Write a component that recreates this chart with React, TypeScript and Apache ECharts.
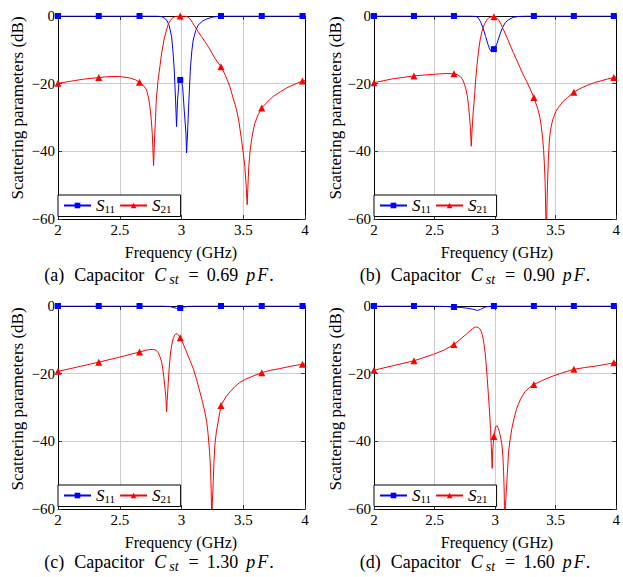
import React, { useEffect, useRef } from 'react';
import * as echarts from 'echarts';

// ---------------- data ----------------
const SERIES_NAMES = ['S11', 'S21'];
const PANEL_LABELS = ['(a)', '(b)', '(c)', '(d)'];
const CAPACITANCES = ['0.69', '0.90', '1.30', '1.60'];
const MARK_FREQS = [2, 2.33, 2.66, 2.99, 3.32, 3.65, 3.98];
const X_TICKS = [2, 2.5, 3, 3.5, 4];
const Y_TICKS = [-60, -40, -20, 0];

const aS11 = [
  [2, 0], [2.33, 0], [2.66, 0], [2.8, 0], [2.84, -0.2], [2.86, -0.6], [2.88, -1.2], [2.9, -2.8],
  [2.92, -6.1], [2.93, -10], [2.94, -15], [2.952, -24.8], [2.96, -32.7], [2.968, -24.8],
  [2.979, -19.9], [2.99, -18.9], [3.0, -19.3], [3.009, -20.9], [3.022, -27.8], [3.036, -34.6],
  [3.041, -40.5], [3.049, -34.6], [3.06, -24.8], [3.073, -15], [3.084, -10.2], [3.095, -7.1],
  [3.115, -4.3], [3.135, -2.7], [3.17, -1.5], [3.203, -0.9], [3.25, -0.35], [3.32, 0],
  [3.65, 0], [3.98, 0], [4, 0],
];
const aS21 = [
  [2, -19.9], [2.1, -19.3], [2.2, -18.7], [2.33, -18.2], [2.42, -17.9], [2.5, -17.9],
  [2.58, -18.3], [2.63, -18.9], [2.66, -19.6], [2.69, -20.5], [2.717, -21.8], [2.735, -24.5],
  [2.744, -26.8], [2.755, -30.5], [2.763, -34.6], [2.774, -44.2], [2.783, -35], [2.79, -30],
  [2.796, -24.8], [2.81, -19], [2.825, -15], [2.84, -10.8], [2.858, -7.1], [2.875, -4.6],
  [2.892, -2.5], [2.91, -1.3], [2.93, -0.5], [2.95, -0.15], [2.99, 0], [3.03, -0.05],
  [3.05, -0.3], [3.068, -0.8], [3.09, -2], [3.108, -3.1], [3.135, -4.6], [3.162, -6.1],
  [3.19, -7.6], [3.216, -9.0], [3.243, -10.7], [3.27, -12.5], [3.32, -15], [3.355, -17.5],
  [3.392, -20.9], [3.42, -24.5], [3.446, -27.7], [3.466, -31.5], [3.486, -36.6], [3.5, -40.5],
  [3.513, -44.5], [3.525, -51], [3.532, -55.8], [3.538, -50], [3.545, -44.5], [3.555, -40],
  [3.567, -36.6], [3.58, -34], [3.594, -31.7], [3.62, -29.2], [3.65, -27.2], [3.7, -25.2],
  [3.742, -23.8], [3.8, -22.4], [3.85, -21.3], [3.92, -20.1], [3.98, -19.2], [4, -19],
];

const bS11 = [
  [2, 0], [2.33, 0], [2.66, 0], [2.8, 0], [2.84, -0.1], [2.86, -0.5], [2.88, -1.7], [2.9, -3.5],
  [2.922, -6.1], [2.94, -8.3], [2.955, -9.8], [2.968, -10.5], [2.99, -9.8], [3.0, -9.3],
  [3.016, -8.1], [3.03, -6.5], [3.043, -5.1], [3.06, -3.5], [3.083, -2.0], [3.11, -1.1],
  [3.15, -0.4], [3.2, -0.1], [3.25, 0], [3.32, 0], [3.65, 0], [3.98, 0], [4, 0],
];
const bS21 = [
  [2, -19.7], [2.15, -18.6], [2.33, -17.7], [2.5, -17.2], [2.6, -17.0], [2.66, -17.1],
  [2.692, -17.4], [2.715, -18.0], [2.733, -18.9], [2.748, -20.3], [2.76, -21.8], [2.772, -24],
  [2.781, -26.7], [2.789, -30], [2.795, -32.6], [2.803, -38.5], [2.809, -34], [2.814, -31],
  [2.82, -28], [2.828, -24.8], [2.838, -19.5], [2.849, -15], [2.862, -10.6], [2.876, -7.1],
  [2.892, -4.5], [2.908, -2.7], [2.93, -1.2], [2.949, -0.5], [2.97, -0.2], [2.99, -0.2],
  [3.01, -0.5], [3.03, -1.2], [3.05, -2.5], [3.07, -4.1], [3.097, -6.3], [3.124, -8.6],
  [3.15, -10.8], [3.178, -13], [3.205, -15.2], [3.232, -17.4], [3.26, -19.3], [3.286, -21.3],
  [3.32, -24.1], [3.354, -27.7], [3.37, -30], [3.381, -32.6], [3.392, -36], [3.4, -39.5],
  [3.407, -44], [3.413, -49.3], [3.422, -65], [3.432, -50.3], [3.44, -42], [3.448, -36.6],
  [3.46, -33.2], [3.475, -30.7], [3.5, -28.3], [3.529, -26.7], [3.56, -25.3], [3.597, -24.1],
  [3.65, -22.5], [3.71, -21.3], [3.772, -20.3], [3.83, -19.6], [3.88, -19.1], [3.93, -18.6],
  [3.98, -18.2], [4, -18.0],
];

const cS11 = [
  [2, 0], [2.33, 0], [2.66, 0], [2.85, 0], [2.9, -0.1], [2.93, -0.4], [2.96, -0.7], [2.99, -0.6],
  [3.02, -0.3], [3.06, -0.05], [3.1, 0], [3.32, 0], [3.65, 0], [3.98, 0], [4, 0],
];
const cS21 = [
  [2, -19.3], [2.15, -18.1], [2.33, -16.6], [2.5, -15.1], [2.66, -13.6], [2.72, -13.0],
  [2.771, -12.8], [2.795, -13.1], [2.812, -13.8], [2.826, -15], [2.839, -16.5], [2.85, -19],
  [2.858, -21.4], [2.867, -24.5], [2.874, -27.3], [2.879, -31.3], [2.884, -28], [2.887, -26.3],
  [2.893, -22.5], [2.898, -19.5], [2.905, -16.3], [2.912, -13.6], [2.922, -11.3], [2.933, -9.6],
  [2.945, -8.6], [2.955, -8.2], [2.965, -8.25], [2.974, -8.5], [2.99, -9.4], [3.015, -11.3],
  [3.041, -13.6], [3.068, -16], [3.095, -18.5], [3.122, -21.7], [3.149, -25.4], [3.17, -28.3],
  [3.189, -31.3], [3.205, -34.5], [3.216, -38.1], [3.227, -43], [3.235, -48], [3.24, -54],
  [3.245, -64], [3.25, -58], [3.257, -51.9], [3.263, -46], [3.27, -41.1], [3.283, -37],
  [3.297, -34.2], [3.32, -29.4], [3.36, -26.8], [3.392, -25.4], [3.43, -23.9], [3.472, -22.6],
  [3.52, -21.6], [3.567, -20.9], [3.65, -19.7], [3.72, -19.0], [3.796, -18.5], [3.9, -17.7],
  [3.98, -17.2], [4, -17.1],
];

const dS11 = [
  [2, 0], [2.33, 0], [2.5, 0], [2.6, -0.15], [2.66, -0.3], [2.72, -0.45], [2.76, -0.6],
  [2.81, -0.9], [2.854, -1.3], [2.88, -1.0], [2.9, -0.6], [2.92, -0.3], [2.95, -0.1], [2.99, 0],
  [3.32, 0], [3.65, 0], [3.98, 0], [4, 0],
];
const dS21 = [
  [2, -19.0], [2.15, -17.7], [2.33, -16.2], [2.49, -14.3], [2.58, -13], [2.66, -11.4],
  [2.72, -9.6], [2.76, -8.4], [2.79, -7.4], [2.814, -6.7], [2.83, -6.3], [2.846, -6.2],
  [2.86, -6.35], [2.873, -6.7], [2.885, -7.5], [2.895, -8.6], [2.906, -10.8], [2.917, -13.6],
  [2.926, -17.2], [2.935, -21.4], [2.945, -26.5], [2.954, -31.3], [2.962, -36.5], [2.968, -41.1],
  [2.976, -48], [2.981, -42.2], [2.99, -38.6], [3.003, -35.7], [3.016, -35.4], [3.027, -36.2],
  [3.035, -37.2], [3.047, -39.2], [3.057, -41.1], [3.064, -44.5], [3.07, -49], [3.075, -55],
  [3.078, -64], [3.085, -59], [3.097, -51.9], [3.111, -43.1], [3.125, -39.2], [3.138, -36.2],
  [3.158, -33], [3.178, -30.3], [3.21, -27.5], [3.245, -25.4], [3.28, -24.2], [3.32, -23.2],
  [3.39, -22], [3.462, -20.9], [3.55, -19.8], [3.65, -18.7], [3.74, -18.2], [3.84, -17.7],
  [3.92, -17.2], [3.98, -16.8], [4, -16.7],
];

const PANEL_DATA = [
  [aS11, aS21],
  [bS11, bS21],
  [cS11, cS21],
  [dS11, dS21],
];

// ---------------- layout ----------------
const FONT = 'Liberation Serif';
const LAYOUT = [
  { left: 58, top: 16, width: 247, yTx: 17, yTy: 108, xTx: 181, xTy: 252, capX: 159, capY: 275, legTop: 195 },
  { left: 374, top: 16, width: 248, yTx: 335, yTy: 108, xTx: 497, xTy: 252, capX: 475, capY: 275, legTop: 195 },
  { left: 58, top: 306, width: 247, yTx: 17, yTy: 399, xTx: 181, xTy: 542, capX: 159, capY: 562, legTop: 485 },
  { left: 374, top: 306, width: 248, yTx: 335, yTy: 399, xTx: 497, xTy: 542, capX: 475, capY: 562, legTop: 485 },
];
const PLOT_H = 203;
const COLORS = ['#0000ff', '#ff0000'];
const SYMBOLS = ['rect', 'triangle'];
const SYMBOL_SIZES = [6, 7];

const minus = (v: number) => (v < 0 ? '\u2212' + Math.abs(v) : String(v));

function buildOption() {
  const grid: any[] = [];
  const xAxis: any[] = [];
  const yAxis: any[] = [];
  const legend: any[] = [];
  const series: any[] = [];
  const elements: any[] = [];

  const tick = { show: true, inside: true, length: 4, lineStyle: { color: '#333', width: 1 } };
  const frameLine = { show: true, onZero: false, lineStyle: { color: '#000', width: 1 } };

  LAYOUT.forEach((p, i) => {
    grid.push({ left: p.left, top: p.top, width: p.width, height: PLOT_H, containLabel: false });
    xAxis.push({
      type: 'value', gridIndex: i, position: 'bottom', min: X_TICKS[0], max: X_TICKS[X_TICKS.length - 1], interval: 0.5,
      axisLine: frameLine, axisTick: tick,
      axisLabel: { show: true, margin: 3, fontFamily: FONT, fontSize: 15, color: '#000', showMinLabel: true, showMaxLabel: true },
      splitLine: { show: true, lineStyle: { color: '#cccccc', width: 1 } },
    });
    xAxis.push({
      type: 'value', gridIndex: i, position: 'top', min: X_TICKS[0], max: X_TICKS[X_TICKS.length - 1], interval: 0.5,
      axisLine: frameLine, axisTick: tick, axisLabel: { show: false }, splitLine: { show: false },
    });
    yAxis.push({
      type: 'value', gridIndex: i, position: 'left', min: Y_TICKS[0], max: Y_TICKS[Y_TICKS.length - 1], interval: 20,
      axisLine: frameLine, axisTick: tick,
      axisLabel: { show: true, margin: 3, fontFamily: FONT, fontSize: 15, color: '#000', formatter: minus, showMinLabel: true, showMaxLabel: true },
      splitLine: { show: true, lineStyle: { color: '#cccccc', width: 1 } },
    });
    yAxis.push({
      type: 'value', gridIndex: i, position: 'right', min: Y_TICKS[0], max: Y_TICKS[Y_TICKS.length - 1], interval: 20,
      axisLine: frameLine, axisTick: tick, axisLabel: { show: false }, splitLine: { show: false },
    });

    PANEL_DATA[i].forEach((pts, k) => {
      series.push({
        name: SERIES_NAMES[k],
        type: 'line',
        xAxisIndex: 2 * i,
        yAxisIndex: 2 * i,
        symbol: SYMBOLS[k],
        symbolSize: SYMBOL_SIZES[k],
        showSymbol: true,
        showAllSymbol: true,
        smooth: false,
        clip: true,
        lineStyle: { color: COLORS[k], width: 1 },
        itemStyle: { color: COLORS[k] },
        emphasis: { disabled: true },
        data: pts.map(([x, y]) =>
          MARK_FREQS.includes(x) ? { value: [x, y] } : { value: [x, y], symbol: 'none' }
        ),
      });
    });

    legend.push({
      left: p.left,
      top: p.legTop,
      orient: 'horizontal',
      data: SERIES_NAMES,
      itemWidth: 27,
      itemHeight: 7,
      itemGap: 4,
      padding: [2, 9, 2, 5],
      borderColor: '#000',
      borderWidth: 1,
      borderRadius: 0,
      backgroundColor: '#fff',
      selectedMode: false,
      formatter: (name: string) => `{i|S}{s|${name.slice(1)}}`,
      textStyle: {
        color: '#000',
        fontFamily: FONT,
        rich: {
          i: { fontFamily: FONT, fontStyle: 'italic', fontSize: 17, color: '#000', lineHeight: 19 },
          s: { fontFamily: FONT, fontSize: 11, color: '#000', padding: [7, 0, 0, 0] },
        },
      },
    });

    elements.push({
      type: 'text', x: p.yTx, y: p.yTy, rotation: Math.PI / 2,
      style: { text: 'Scattering parameters (dB)', fontFamily: FONT, fontSize: 17, fill: '#000', align: 'center', verticalAlign: 'middle' },
    });
    elements.push({
      type: 'text', x: p.xTx, y: p.xTy,
      style: { text: 'Frequency (GHz)', fontFamily: FONT, fontSize: 16, fill: '#000', align: 'center', verticalAlign: 'middle' },
    });
    elements.push({
      type: 'text', x: p.capX, y: p.capY,
      style: {
        text: `{n|${PANEL_LABELS[i]}}{n|Capacitor}{it|C}{sub|st}{eq|=}{num|${CAPACITANCES[i]}}{ip|p}{iF|F}{e|.}`,
        align: 'center', verticalAlign: 'middle', fill: '#000', fontFamily: FONT,
        rich: {
          n: { fontFamily: FONT, fontSize: 18, fill: '#000', padding: [0, 10, 0, 0] },
          it: { fontFamily: FONT, fontSize: 18, fontStyle: 'italic', fill: '#000', padding: [0, 1, 0, 0] },
          sub: { fontFamily: FONT, fontSize: 14, fontStyle: 'italic', fill: '#000', padding: [8, 10, 0, 2] },
          eq: { fontFamily: FONT, fontSize: 18, fill: '#000', padding: [0, 8, 0, 0] },
          num: { fontFamily: FONT, fontSize: 18, fill: '#000', padding: [0, 8, 0, 0] },
          ip: { fontFamily: FONT, fontSize: 18, fontStyle: 'italic', fill: '#000', padding: [0, 2, 0, 0] },
          iF: { fontFamily: FONT, fontSize: 18, fontStyle: 'italic', fill: '#000', padding: [0, 1, 0, 0] },
          e: { fontFamily: FONT, fontSize: 18, fill: '#000' },
        },
      },
    });
  });

  return {
    animation: false,
    backgroundColor: '#fff',
    textStyle: { fontFamily: FONT },
    grid, xAxis, yAxis, legend, series,
    graphic: { elements },
  };
}

export default function App() {
  const ref = useRef<HTMLDivElement>(null);
  useEffect(() => {
    if (!ref.current) return;
    const chart = echarts.init(ref.current, undefined, { renderer: 'svg' });
    chart.setOption(buildOption() as any);
    return () => chart.dispose();
  }, []);
  return <div ref={ref} style={{ position: 'fixed', left: 0, top: 0, width: 623, height: 577 }} />;
}
